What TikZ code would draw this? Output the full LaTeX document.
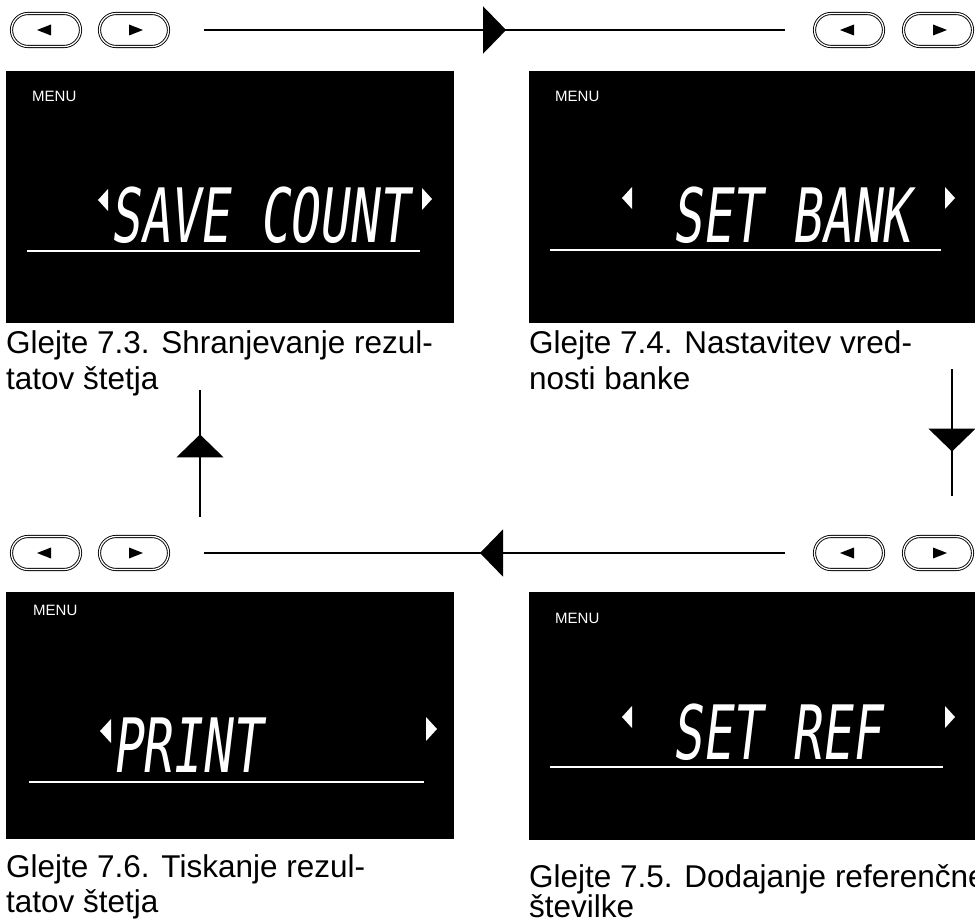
\documentclass[tikz,border=0pt]{standalone}
\usepackage{fontspec}
\setmainfont{Liberation Sans}
\newfontfamily\lcdfont[FakeStretch=0.66,FakeSlant=0.12]{DejaVu Sans Mono}
\usetikzlibrary{arrows.meta,decorations.markings,positioning}

\begin{document}
\begin{tikzpicture}[x=1pt,y=-1pt,
  knop/.style={draw, line width=0.9pt, double, double distance=1.3pt, rounded corners=16.5pt,
    minimum width=69pt, minimum height=33pt, inner sep=0pt},
  screen/.style={fill=black, draw=none, anchor=north west, inner sep=0pt},
  menu/.style={text=white, font=\fontsize{15}{17}\selectfont, anchor=base west, inner sep=0pt},
  lcd/.style={text=white, font=\lcdfont\fontsize{75}{80}\selectfont, anchor=base west, inner sep=0pt},
  caption/.style={font=\fontsize{31.5}{38}\selectfont, anchor=base west, inner sep=0pt},
  uline/.style={white, line width=1.8pt},
  conn/.style={line width=1.6pt},
  midarrow/.style={postaction={decorate}, decoration={markings,
    mark=at position #1 with {\arrow{Triangle[length=23pt,width=47pt]}}}},
]
\useasboundingbox (0,0) rectangle (975,923);
% Tasti
\foreach \row/\y in {t/30,m/553}{
  \node[knop] (\row L1) at (46,\y) {};
  \node[knop] (\row L2) at (134,\y) {};
  \node[knop] (\row R1) at (849,\y) {};
  \node[knop] (\row R2) at (938,\y) {};
  \foreach \b in {L1,R1}
    \fill ([xshift=-9pt]\row\b.center) -- ++(14,-5.5) -- ++(0,11) -- cycle;
  \foreach \b in {L2,R2}
    \fill ([xshift=9pt]\row\b.center) -- ++(-14,-5.5) -- ++(0,11) -- cycle;
}
% Display
\node[screen, minimum width=448pt, minimum height=252pt] (sTL) at (6,71) {};
\node[screen, minimum width=452pt, minimum height=252pt] (sTR) at (529,71) {};
\node[screen, minimum width=448pt, minimum height=247pt] (sBL) at (6,592) {};
\node[screen, minimum width=452pt, minimum height=248pt] (sBR) at (529,592) {};
\node[menu] (mTL) at (32,102) {MENU};
\node[menu] (mTR) at (555,102) {MENU};
\node[menu] (mBL) at (33,615) {MENU};
\node[menu] (mBR) at (555,623) {MENU};
\node[lcd] (dTL) at (110,242) {SAVE COUNT};
\node[lcd] (dTR) at (672,242) {SET BANK};
\node[lcd] (dBL) at (112,772) {PRINT};
\node[lcd] (dBR) at (672,759) {SET REF};
\draw[uline] (27,251) -- (420,251);
\draw[uline] (550,250) -- (941,250);
\draw[uline] (29,782) -- (424,782);
\draw[uline] (550,767) -- (943,767);
% Frecce del display
\fill[white] (98,200) -- (108,189) -- (108,211) -- cycle;
\fill[white] (432,199) -- (422,188) -- (422,210) -- cycle;
\fill[white] (622,198) -- (632,187) -- (632,209) -- cycle;
\fill[white] (955,198) -- (945,187) -- (945,209) -- cycle;
\fill[white] (100,731) -- (111,719) -- (111,743) -- cycle;
\fill[white] (437,729) -- (426,717) -- (426,741) -- cycle;
\fill[white] (622,717) -- (632,706) -- (632,728) -- cycle;
\fill[white] (955,717) -- (945,706) -- (945,728) -- cycle;
% Didascalie
\node[caption] (c73a) at (6,353) {Glejte 7.3. Shranjevanje rezul-};
\node[caption] (c73b) at (6,389) {tatov štetja};
\node[caption] (c74a) at (529,353) {Glejte 7.4. Nastavitev vred-};
\node[caption] (c74b) at (529,389) {nosti banke};
\node[caption] (c76a) at (6,877) {Glejte 7.6. Tiskanje rezul-};
\node[caption] (c76b) at (6,912) {tatov štetja};
\node[caption] (c75a) at (529,887) {Glejte 7.5. Dodajanje referenčne};
\node[caption] (c75b) at (529,917) {številke};
% Collegamenti
\draw[conn, midarrow=0.52] ([xshift=35.5pt]tL2.east) -- ([xshift=-29.5pt]tR1.west);
\draw[conn, midarrow=0.525] ([xshift=-29.5pt]mR1.west) -- ([xshift=35.5pt]mL2.east);
\coordinate (upA) at (200,517);
\coordinate (upB) at (200,390);
\draw[conn, midarrow=0.65] (upA) -- (upB);
\coordinate (dnA) at (952,369);
\coordinate (dnB) at (952,496);
\draw[conn, midarrow=0.65] (dnA) -- (dnB);
\end{tikzpicture}
\end{document}
